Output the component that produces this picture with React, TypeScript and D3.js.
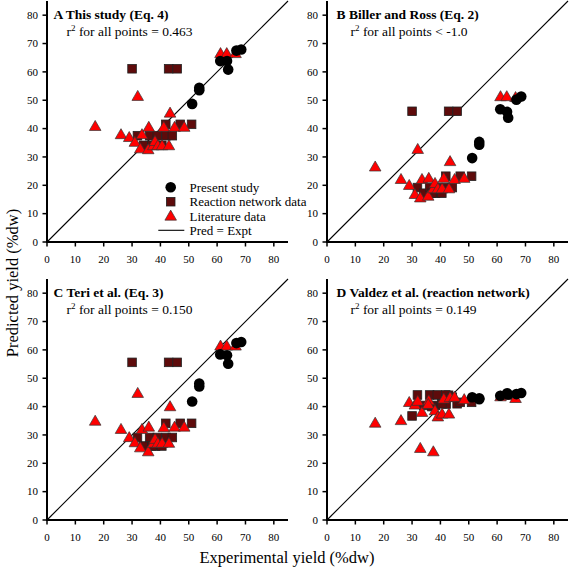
import React from "react";
import * as d3 from "d3";

// Present study (experimental yield, predicted by each model)
const presentX = [51.2, 53.7, 53.7, 61.1, 63.5, 63.9, 66.8, 68.5];
const presentA = [48.7, 54.4, 53.5, 63.8, 63.8, 60.8, 67.5, 67.9];
const presentB = [29.6, 35.3, 34.3, 46.8, 45.9, 43.8, 50.2, 51.3];
const presentC = [41.8, 48.1, 47.1, 58.4, 58.1, 55.1, 62.4, 62.8];
const presentD = [43.3, 42.9, 42.6, 43.8, 44.7, 44.3, 44.4, 44.8];

// Reaction network data
const networkX = [30.0, 42.9, 45.9, 31.9, 34.1, 36.2, 38.9, 41.9, 42.0, 44.2, 47.0, 51.0, 38.3, 40.5, 37.0];
const networkA = [61.1, 61.1, 61.1, 37.5, 34.1, 37.5, 37.5, 41.5, 37.5, 37.5, 41.5, 41.5, 34.1, 34.1, 34.1];
const networkB = [46.1, 46.1, 46.1, 19.2, 17.2, 19.2, 19.2, 23.2, 19.2, 19.2, 23.2, 23.2, 17.2, 17.2, 17.2];
const networkC = [55.6, 55.6, 55.6, 29.1, 26.1, 29.1, 29.1, 34.1, 29.1, 29.1, 34.1, 34.1, 26.1, 26.1, 26.1];
const networkD = [36.7, 44.0, 41.0, 44.1, 40.4, 44.1, 44.1, 44.1, 40.9, 43.3, 41.5, 41.5, 40.4, 41.0, 40.0];

// Literature data
const literatureX = [17.0, 26.1, 29.0, 31.0, 32.0, 32.9, 33.5, 35.9, 35.7, 37.5, 38.1, 39.1, 40.6, 41.2, 43.0, 43.4, 45.0, 48.4, 61.2, 63.4, 66.5];
const literatureA = [40.8, 37.9, 36.9, 35.2, 51.4, 32.9, 37.9, 40.5, 32.6, 34.0, 35.5, 34.0, 34.0, 40.5, 34.0, 45.5, 40.5, 40.5, 66.5, 66.5, 66.5];
const literatureB = [26.5, 22.1, 20.0, 16.8, 32.7, 15.6, 22.1, 22.5, 16.2, 18.8, 20.7, 18.8, 18.8, 22.5, 18.8, 28.4, 22.1, 22.5, 51.3, 51.3, 51.0];
const literatureC = [34.9, 32.0, 29.1, 27.3, 44.7, 25.5, 32.0, 32.8, 24.1, 27.1, 28.5, 27.1, 27.1, 32.6, 27.1, 40.0, 32.8, 32.8, 61.4, 61.4, 61.4];
const literatureD = [34.2, 35.1, 41.5, 40.6, 41.9, 25.3, 38.0, 42.1, 40.8, 24.1, 38.6, 36.4, 37.4, 42.7, 37.4, 43.2, 43.3, 42.5, 43.5, 44.0, 42.9];

const panelTitles = ["A This study (Eq. 4)", "B Biller and Ross (Eq. 2)", "C Teri et al. (Eq. 3)", "D Valdez et al. (reaction network)"];
const r2Labels = [" for all points = 0.463", " for all points < -1.0", " for all points = 0.150", " for all points = 0.149"];
const ticks = [0, 10, 20, 30, 40, 50, 60, 70, 80];
const legendLabels = ["Present study", "Reaction network data", "Literature data", "Pred = Expt"];

const presentY = [presentA, presentB, presentC, presentD];
const networkY = [networkA, networkB, networkC, networkD];
const literatureY = [literatureA, literatureB, literatureC, literatureD];

const W = 569, H = 571;
const SIZE = 241;
const origins = [
  { x: 47, y: 242, col: 0 },
  { x: 327, y: 242, col: 1 },
  { x: 47, y: 520, col: 0 },
  { x: 327, y: 520, col: 1 },
];
const FONT = "Liberation Serif, DejaVu Serif, serif";
const serif = { fontFamily: FONT };

function Panel({ idx }: { idx: number }) {
  const o = origins[idx];
  const xs = d3.scaleLinear().domain([0, 85]).range([o.x, o.x + SIZE]);
  const ys = d3.scaleLinear().domain([0, 85]).range([o.y, o.y - SIZE]);
  const top = ys(85);
  const tri = d3.symbol().type(d3.symbolTriangle).size(58)()!;
  const titleDx = o.col === 0 ? 6.5 : 9.5;
  const r2Dx = o.col === 0 ? 19.5 : 23.5;
  return (
    <g>
      <line x1={xs(0)} y1={ys(0)} x2={xs(85)} y2={ys(85)} stroke="#000" strokeWidth={1.1} />
      {networkX.map((v, i) => (
        <rect key={"n" + i} x={xs(v) - 4.3} y={ys(networkY[idx][i]) - 4.3} width={8.6} height={8.6}
          fill="#5e0b0b" stroke="#222" strokeWidth={0.8} />
      ))}
      {literatureX.map((v, i) => (
        <path key={"l" + i} d={tri} transform={`translate(${xs(v)},${ys(literatureY[idx][i]) + 0.8})`}
          fill="#ff0000" stroke="#333" strokeWidth={0.7} />
      ))}
      {presentX.map((v, i) => (
        <circle key={"p" + i} cx={xs(v)} cy={ys(presentY[idx][i])} r={5.3} fill="#000" />
      ))}
      <line x1={o.x} y1={o.y} x2={o.x + SIZE} y2={o.y} stroke="#000" strokeWidth={2} />
      <line x1={o.x} y1={o.y + 1} x2={o.x} y2={top} stroke="#000" strokeWidth={2} />
      {ticks.map((t) => (
        <g key={"xt" + t}>
          <line x1={xs(t)} y1={o.y} x2={xs(t)} y2={o.y + 4.5} stroke="#000" strokeWidth={1.5} />
          <text x={xs(t)} y={o.y + 20.5} fontSize={11} style={serif} textAnchor="middle">{t}</text>
        </g>
      ))}
      {ticks.map((t) => (
        <g key={"yt" + t}>
          <line x1={o.x - 4.5} y1={ys(t)} x2={o.x} y2={ys(t)} stroke="#000" strokeWidth={1.5} />
          <text x={o.x - 9} y={ys(t) + 3.8} fontSize={11} style={serif} textAnchor="end">{t}</text>
        </g>
      ))}
      <text x={o.x + titleDx} y={top + 18} fontSize={13.5} fontWeight="bold" style={serif}>{panelTitles[idx]}</text>
      <text x={o.x + r2Dx} y={top + 34.5} fontSize={13.5} style={serif}>
        r<tspan dy={-5} fontSize={9}>2</tspan><tspan dy={5}>{r2Labels[idx]}</tspan>
      </text>
    </g>
  );
}

function Legend() {
  const tri = d3.symbol().type(d3.symbolTriangle).size(58)()!;
  const mx = 170.7;
  const tx = 189.5;
  const rows = [187.3, 201.7, 216, 230.3];
  return (
    <g style={serif} fontSize={13}>
      <circle cx={mx} cy={rows[0]} r={5.3} fill="#000" />
      <rect x={mx - 4.3} y={rows[1] - 4.3} width={8.6} height={8.6} fill="#5e0b0b" stroke="#222" strokeWidth={0.8} />
      <path d={tri} transform={`translate(${mx},${rows[2] + 0.8})`} fill="#ff0000" stroke="#333" strokeWidth={0.7} />
      <line x1={158.3} x2={184.3} y1={rows[3]} y2={rows[3]} stroke="#000" strokeWidth={1.1} />
      {legendLabels.map((l, i) => (
        <text key={l} x={tx} y={rows[i] + 4.5} style={serif}>{l}</text>
      ))}
    </g>
  );
}

export default function App() {
  return (
    <svg width={W} height={H} style={{ position: "absolute", left: 0, top: 0, background: "#fff" }}>
      <rect width={W} height={H} fill="#fff" />
      {[0, 1, 2, 3].map((i) => <Panel key={i} idx={i} />)}
      <Legend />
      <text x={287} y={563} fontSize={16.5} style={serif} textAnchor="middle">Experimental yield (%dw)</text>
      <text transform="translate(18,283) rotate(-90)" fontSize={16.5} style={serif} textAnchor="middle">Predicted yield (%dw)</text>
    </svg>
  );
}
